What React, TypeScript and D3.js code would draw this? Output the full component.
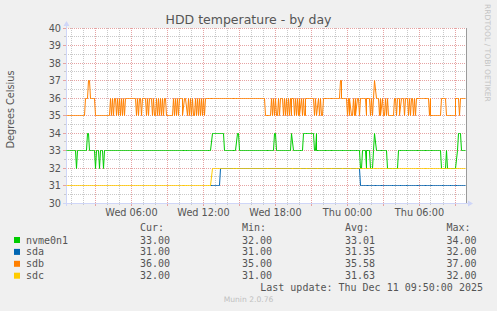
import React from 'react';
import * as d3 from 'd3';

const W = 497;
const H = 311;

const startTime = new Date(2025, 11, 10, 0, 35);
const stepMinutes = 5;
const sampleCount = 400;

// run-length readings of 5-minute samples: [samples, value]
const nvmeRuns: [number, number][] = [
  [10, 33], [1, 32], [10, 33], [2, 34], [6, 33], [1, 32], [3, 33], [1, 32], [3, 33], [1, 32],
  [108, 33], [12, 34], [13, 33], [2, 34], [35, 33], [2, 34], [15, 33], [2, 34], [10, 33],
  [11, 34], [2, 33], [1, 34], [43, 33], [2, 32], [4, 33], [1, 32], [3, 33], [3, 32], [1, 33],
  [2, 34], [11, 33], [11, 32], [43, 33], [5, 32], [1, 33], [10, 32], [1, 33], [3, 34], [5, 33],
];
const sdaRuns: [number, number][] = [[145, NaN], [9, 31], [140, 32], [106, 31]];
const sdbRuns: [number, number][] = [
  [19, 35], [3, 36], [2, 37], [5, 36], [15, 35],
  [1, 36], [1, 35], [1, 36], [1, 35], [2, 36], [1, 35], [1, 36], [1, 35], [1, 36], [1, 35],
  [1, 36], [1, 35], [1, 36], [1, 35],
  [11, 36],
  [1, 35], [1, 36], [1, 35], [2, 36], [1, 35], [4, 36], [1, 35], [1, 36], [1, 35], [3, 36],
  [1, 35], [1, 36], [2, 35], [1, 36], [1, 35], [1, 36], [1, 35], [1, 36], [1, 35], [1, 36],
  [1, 35], [2, 36], [7, 35], [1, 36], [1, 35], [1, 36], [1, 35], [1, 36], [1, 35], [4, 36],
  [1, 35], [3, 36], [1, 35], [1, 36], [1, 35], [1, 36], [1, 35], [1, 36], [2, 35], [1, 36],
  [1, 35], [1, 36], [1, 35], [1, 36], [1, 35], [1, 36], [1, 35], [1, 36], [1, 35],
  [60, 36],
  [6, 35], [1, 36], [1, 35], [1, 36], [1, 35], [1, 36], [2, 35], [1, 36], [1, 35], [3, 36],
  [1, 35], [1, 36], [1, 35], [1, 36], [1, 35], [1, 36], [1, 35], [1, 36], [1, 35], [2, 36],
  [1, 35], [1, 36], [1, 35], [1, 36], [1, 35], [1, 36], [1, 35], [1, 36], [1, 35], [1, 36],
  [2, 35], [8, 36], [1, 35], [1, 36], [2, 35], [1, 36], [1, 35], [1, 36], [2, 35],
  [17, 36], [2, 37], [5, 36],
  [1, 35], [1, 36], [1, 35], [1, 36], [2, 35], [1, 36], [1, 35], [1, 36], [1, 35], [2, 36],
  [1, 35], [6, 36], [1, 35], [3, 36], [1, 35], [1, 36], [1, 35], [1, 36], [2, 37], [3, 36],
  [1, 35], [1, 36], [1, 35], [1, 36], [2, 35], [1, 36], [1, 35], [1, 36], [6, 35], [2, 36],
  [1, 35], [3, 36], [1, 35], [3, 36], [1, 35], [3, 36], [1, 35], [1, 36], [1, 35], [2, 36],
  [1, 35], [1, 36], [1, 35], [13, 36], [1, 35], [1, 36], [10, 35], [5, 36], [10, 35],
  [3, 36], [1, 35], [6, 36],
];
const sdcRuns: [number, number][] = [[146, 31], [254, 32]];

const seriesNames = ['nvme0n1', 'sda', 'sdb', 'sdc'];
const seriesColors = ['#00CC00', '#0066B3', '#FF8000', '#FFCC00'];
const seriesRuns = [nvmeRuns, sdaRuns, sdbRuns, sdcRuns];
const curValues = ['33.00', '31.00', '36.00', '32.00'];
const minValues = ['32.00', '31.00', '35.00', '31.00'];
const avgValues = ['33.01', '31.35', '35.58', '31.63'];
const maxValues = ['34.00', '32.00', '37.00', '32.00'];
const statHeaders = ['Cur:', 'Min:', 'Avg:', 'Max:'];

const yTicks = [30, 31, 32, 33, 34, 35, 36, 37, 38, 39, 40];
const xLabelTimes = [
  new Date(2025, 11, 10, 6, 0),
  new Date(2025, 11, 10, 12, 0),
  new Date(2025, 11, 10, 18, 0),
  new Date(2025, 11, 11, 0, 0),
  new Date(2025, 11, 11, 6, 0),
];

const title = 'HDD temperature - by day';
const yAxisLabel = 'Degrees Celsius';
const lastUpdate = 'Last update: Thu Dec 11 09:50:00 2025';
const footer = 'Munin 2.0.76';
const watermark = 'RRDTOOL / TOBI OETIKER';

type Pt = { t: Date; v: number };

function expand(runs: [number, number][]): Pt[] {
  const out: Pt[] = [];
  let i = 0;
  for (const [n, v] of runs) {
    for (let k = 0; k < n; k++) {
      out.push({ t: new Date(startTime.getTime() + i * stepMinutes * 60000), v });
      i++;
    }
  }
  return out;
}

const SANS = 'DejaVu Sans, sans-serif';
const MONO = 'DejaVu Sans Mono, monospace';
const FONT_COLOR = '#555555';

export default function App() {
  const endTime = new Date(startTime.getTime() + sampleCount * stepMinutes * 60000);
  const x = d3.scaleTime().domain([startTime, endTime]).range([66, 466]);
  const y = d3.scaleLinear().domain([30, 40]).range([203, 28]);
  const px = (t: Date) => Math.floor(x(t)) + 0.5;
  const py = (v: number) => Math.floor(y(v)) + 0.5;

  const left = x.range()[0];
  const right = x.range()[1];
  const top = y.range()[1];
  const bottom = y.range()[0];

  const minorY = d3.range(30, 40.01, 0.5).filter((v) => v % 1 !== 0);
  const hours = d3.timeHour.every(1)!.range(startTime, endTime);
  const minorX = hours.filter((h) => h.getHours() % 3 !== 0);
  const majorX = hours.filter((h) => h.getHours() % 3 === 0);

  const line = d3
    .line<Pt>()
    .defined((d) => !isNaN(d.v))
    .x((d) => px(d.t))
    .y((d) => py(d.v));

  const series = seriesRuns.map(expand);

  const MINOR = '#c9c9c9';
  const MAJOR = '#e6a3a3';
  const AXIS = '#CFD6F8';

  const rowBase = (i: number) => 243.5 + i * 11.9;
  const statX = [140, 242, 345, 446.5];

  return (
    <div style={{ position: 'absolute', left: 0, top: 0 }}>
      <svg width={W} height={H} viewBox={`0 0 ${W} ${H}`} style={{ display: 'block' }}>
        <rect x={0} y={0} width={W} height={H} fill="#F0F0F0" />
        <rect x={left} y={top} width={right - left + 1} height={bottom - top + 1} fill="#FFFFFF" />

        {/* minor grid */}
        {minorY.map((v) => (
          <g key={'my' + v}>
            <line x1={left} x2={right} y1={py(v)} y2={py(v)} stroke={MINOR} strokeDasharray="1 1" />
            <line x1={left - 2} x2={left} y1={py(v)} y2={py(v)} stroke={MINOR} />
          </g>
        ))}
        {minorX.map((t) => (
          <g key={'mx' + t.getTime()}>
            <line x1={px(t)} x2={px(t)} y1={top} y2={bottom} stroke={MINOR} strokeDasharray="1 1" />
            <line x1={px(t)} x2={px(t)} y1={bottom} y2={bottom + 2} stroke={MINOR} />
          </g>
        ))}
        {/* major grid */}
        {yTicks.map((v) => (
          <g key={'My' + v}>
            <line x1={left} x2={right} y1={py(v)} y2={py(v)} stroke={MAJOR} strokeDasharray="1 1" />
            <line x1={left - 3} x2={left} y1={py(v)} y2={py(v)} stroke={MAJOR} />
          </g>
        ))}
        {majorX.map((t) => (
          <g key={'Mx' + t.getTime()}>
            <line x1={px(t)} x2={px(t)} y1={top} y2={bottom} stroke={MAJOR} strokeDasharray="1 1" />
            <line x1={px(t)} x2={px(t)} y1={bottom} y2={bottom + 3} stroke={MAJOR} />
          </g>
        ))}

        {/* axes */}
        <line x1={left - 3} x2={right + 3} y1={bottom + 0.5} y2={bottom + 0.5} stroke={AXIS} />
        <line x1={left + 0.5} x2={left + 0.5} y1={bottom + 3} y2={top - 3} stroke={AXIS} />
        <path d={`M${right + 2},${bottom - 2.5} L${right + 7},${bottom + 0.5} L${right + 2},${bottom + 3.5} Z`} fill={AXIS} />
        <path d={`M${left - 2.5},${top - 2} L${left + 0.5},${top - 7} L${left + 3.5},${top - 2} Z`} fill={AXIS} />
        <line x1={right + 0.5} x2={right + 0.5} y1={top} y2={bottom} stroke="#9a9a9a" />

        {/* data */}
        {series.map((pts, i) => (
          <path key={seriesNames[i]} d={line(pts) || ''} fill="none" stroke={seriesColors[i]} strokeWidth={1} />
        ))}

        {/* y tick labels */}
        {yTicks.map((v) => (
          <text key={'yl' + v} x={61} y={py(v) + 3.5} textAnchor="end" fontFamily={SANS} fontSize={9.72} fill={FONT_COLOR}>
            {v}
          </text>
        ))}
        {/* x tick labels */}
        {xLabelTimes.map((t) => (
          <text key={'xl' + t.getTime()} x={px(t)} y={216} textAnchor="middle" fontFamily={SANS} fontSize={9.72} fill={FONT_COLOR}>
            {d3.timeFormat('%a %H:%M')(t)}
          </text>
        ))}

        {/* title */}
        <text x={W / 2} y={24} textAnchor="middle" fontFamily={SANS} fontSize={12.5} fill={FONT_COLOR}>
          {title}
        </text>
        <text transform={`translate(13.5, ${(top + bottom) / 2 - 6}) rotate(-90)`} textAnchor="middle" fontFamily={SANS} fontSize={9.72} fill={FONT_COLOR}>
          {yAxisLabel}
        </text>
        <text transform={`translate(485, 4) rotate(90)`} textAnchor="start" fontFamily={SANS} fontSize={7.6} fill="#c4c4c4">
          {watermark}
        </text>

        {/* legend */}
        {statHeaders.map((h, j) => (
          <text key={h} x={statX[j]} y={231} fontFamily={MONO} fontSize={10} fill={FONT_COLOR}>
            {h}
          </text>
        ))}
        {seriesNames.map((n, i) => (
          <g key={'lg' + n}>
            <rect x={14} y={rowBase(i) - 6.5} width={6} height={6} fill={seriesColors[i]} />
            <text x={26} y={rowBase(i)} fontFamily={MONO} fontSize={10} fill={FONT_COLOR}>
              {n}
            </text>
            {[curValues[i], minValues[i], avgValues[i], maxValues[i]].map((val, j) => (
              <text key={j} x={statX[j]} y={rowBase(i)} fontFamily={MONO} fontSize={10} fill={FONT_COLOR}>
                {val}
              </text>
            ))}
          </g>
        ))}
        <text x={483} y={291.3} textAnchor="end" fontFamily={MONO} fontSize={10} fill={FONT_COLOR}>
          {lastUpdate}
        </text>
        <text x={W / 2} y={302} textAnchor="middle" fontFamily={SANS} fontSize={7.6} fill="#c0c0c0">
          {footer}
        </text>
      </svg>
    </div>
  );
}
